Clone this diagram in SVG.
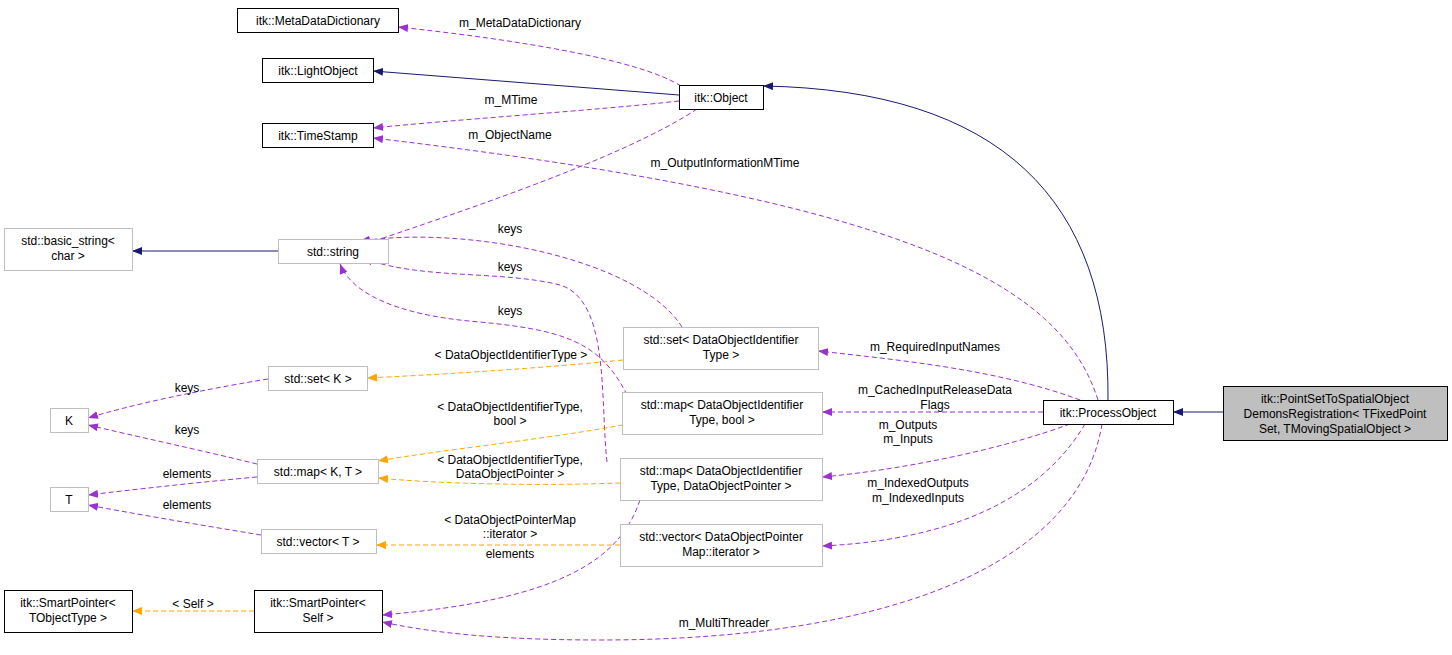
<svg xmlns="http://www.w3.org/2000/svg" width="1452" height="655" viewBox="0 0 1452 655">
<style>
text{font-family:"Liberation Sans",Arial,sans-serif;font-size:12px;fill:#000}
.n rect{fill:#fff;stroke:#000;stroke-width:1}
.g rect{fill:#fff;stroke:#bfbfbf;stroke-width:1}
.c{text-anchor:middle}
.s{fill:none;stroke:#191970;stroke-width:1}
.p{fill:none;stroke:#9a32cd;stroke-width:1;stroke-dasharray:5,3}
.o{fill:none;stroke:#ffa500;stroke-width:1;stroke-dasharray:5,3}
</style>
<defs>
<marker id="mn" viewBox="0 0 10 8" refX="10" refY="4" markerWidth="10" markerHeight="8" markerUnits="userSpaceOnUse" orient="auto"><path d="M0,0L10,4L0,8z" fill="#191970"/></marker>
<marker id="mp" viewBox="0 0 10 8" refX="10" refY="4" markerWidth="10" markerHeight="8" markerUnits="userSpaceOnUse" orient="auto"><path d="M0,0L10,4L0,8z" fill="#9a32cd"/></marker>
<marker id="mo" viewBox="0 0 10 8" refX="10" refY="4" markerWidth="10" markerHeight="8" markerUnits="userSpaceOnUse" orient="auto"><path d="M0,0L10,4L0,8z" fill="#ffa500"/></marker>
</defs>
<rect width="1452" height="655" fill="#fff"/>
<g id="edges">
<path class="s" marker-end="url(#mn)" d="M1223,412H1173"/>
<path class="s" marker-end="url(#mn)" d="M1108,400C1110,200 1000,90 763,86"/>
<path class="s" marker-end="url(#mn)" d="M679,95L373,71"/>
<path class="s" marker-end="url(#mn)" d="M278,251H132"/>
<path class="p" marker-end="url(#mp)" d="M681,86C640,60 520,40 398,27"/>
<text x="520" y="27" class="c">m_MetaDataDictionary</text>
<path class="p" marker-end="url(#mp)" d="M679,101C600,110 450,120 373,128"/>
<text x="511" y="104" class="c">m_MTime</text>
<path class="p" marker-end="url(#mp)" d="M1098,400C1060,280 900,200 373,138"/>
<text x="725" y="167" class="c">m_OutputInformationMTime</text>
<path class="p" marker-end="url(#mp)" d="M697,109C620,160 450,215 360,246"/>
<text x="510" y="139" class="c">m_ObjectName</text>
<path class="p" marker-end="url(#mp)" d="M682,327C640,260 470,225 360,241"/>
<text x="510" y="233" class="c">keys</text>
<path class="p" marker-end="url(#mp)" d="M607,462C600,400 610,300 560,285C500,270 420,280 363,258"/>
<text x="510" y="271" class="c">keys</text>
<path class="p" marker-end="url(#mp)" d="M627,395C600,340 560,330 480,322C390,315 350,290 340,264"/>
<text x="510" y="315" class="c">keys</text>
<path class="p" marker-end="url(#mp)" d="M640,500C620,560 560,600 382,615"/>
<text x="510" y="558" class="c">elements</text>
<path class="p" marker-end="url(#mp)" d="M1080,400C1000,370 900,360 818,351"/>
<text x="935" y="351" class="c">m_RequiredInputNames</text>
<path class="p" marker-end="url(#mp)" d="M1043,412H822"/>
<text x="935" y="394" class="c">m_CachedInputReleaseData</text>
<text x="935" y="409" class="c">Flags</text>
<path class="p" marker-end="url(#mp)" d="M1070,424C1000,450 900,470 822,477"/>
<text x="908" y="429" class="c">m_Outputs</text>
<text x="908" y="443" class="c">m_Inputs</text>
<path class="p" marker-end="url(#mp)" d="M1085,424C1040,500 950,540 822,546"/>
<text x="918" y="487" class="c">m_IndexedOutputs</text>
<text x="918" y="502" class="c">m_IndexedInputs</text>
<path class="p" marker-end="url(#mp)" d="M1102,424C1080,560 900,640 600,640C480,640 420,630 382,622"/>
<text x="724" y="627" class="c">m_MultiThreader</text>
<path class="o" marker-end="url(#mo)" d="M623,360C520,370 430,375 367,378"/>
<text x="511" y="359" class="c">&lt; DataObjectIdentifierType &gt;</text>
<path class="o" marker-end="url(#mo)" d="M623,425C540,440 440,450 378,461"/>
<text x="510" y="411" class="c">&lt; DataObjectIdentifierType,</text>
<text x="510" y="425" class="c">bool &gt;</text>
<path class="o" marker-end="url(#mo)" d="M620,483C540,486 440,484 378,478"/>
<text x="510" y="464" class="c">&lt; DataObjectIdentifierType,</text>
<text x="510" y="478" class="c">DataObjectPointer &gt;</text>
<path class="o" marker-end="url(#mo)" d="M620,545H376"/>
<text x="510" y="524" class="c">&lt; DataObjectPointerMap</text>
<text x="510" y="538" class="c">::iterator &gt;</text>
<path class="o" marker-end="url(#mo)" d="M254,611H132"/>
<text x="193" y="608" class="c">&lt; Self &gt;</text>
<path class="p" marker-end="url(#mp)" d="M268,379C200,390 130,405 88,418"/>
<text x="187" y="392" class="c">keys</text>
<path class="p" marker-end="url(#mp)" d="M257,464C200,450 130,435 88,425"/>
<text x="187" y="434" class="c">keys</text>
<path class="p" marker-end="url(#mp)" d="M257,477C200,482 130,490 88,495"/>
<text x="187" y="478" class="c">elements</text>
<path class="p" marker-end="url(#mp)" d="M261,535C200,525 130,513 88,505"/>
<text x="187" y="509" class="c">elements</text>
</g>
<g id="MetaDataDictionary" class="n"><rect x="237.5" y="8.5" width="161" height="24"/><text x="318" y="25" class="c">itk::MetaDataDictionary</text></g>
<g id="LightObject" class="n"><rect x="262.5" y="58.5" width="111" height="24"/><text x="318" y="75" class="c">itk::LightObject</text></g>
<g id="TimeStamp" class="n"><rect x="262.5" y="123.5" width="111" height="24"/><text x="318" y="140" class="c">itk::TimeStamp</text></g>
<g id="Object" class="n"><rect x="679.5" y="85.5" width="84" height="24"/><text x="721" y="102" class="c">itk::Object</text></g>
<g id="basic_string" class="g"><rect x="4.5" y="228.5" width="128" height="42"/><text x="68" y="245" class="c">std::basic_string&lt;</text><text x="68" y="260" class="c">char &gt;</text></g>
<g id="string" class="g"><rect x="278.5" y="239.5" width="110" height="24"/><text x="333" y="256" class="c">std::string</text></g>
<g id="setDOIT" class="g"><rect x="623.5" y="327.5" width="195" height="42"/><text x="721" y="344" class="c">std::set&lt; DataObjectIdentifier</text><text x="721" y="359" class="c">Type &gt;</text></g>
<g id="setK" class="g"><rect x="268.5" y="366.5" width="99" height="24"/><text x="318" y="383" class="c">std::set&lt; K &gt;</text></g>
<g id="K" class="g"><rect x="50.5" y="408.5" width="38" height="24"/><text x="69" y="425" class="c">K</text></g>
<g id="mapBool" class="g"><rect x="622.5" y="392.5" width="200" height="42"/><text x="722" y="409" class="c">std::map&lt; DataObjectIdentifier</text><text x="722" y="424" class="c">Type, bool &gt;</text></g>
<g id="ProcessObject" class="n"><rect x="1043.5" y="400.5" width="130" height="24"/><text x="1108" y="417" class="c">itk::ProcessObject</text></g>
<g id="target"><rect x="1223.5" y="386.5" width="224" height="54" fill="#bfbfbf" stroke="#000"/><text x="1335" y="403" class="c">itk::PointSetToSpatialObject</text><text x="1335" y="418" class="c">DemonsRegistration&lt; TFixedPoint</text><text x="1335" y="433" class="c">Set, TMovingSpatialObject &gt;</text></g>
<g id="mapKT" class="g"><rect x="257.5" y="459.5" width="121" height="24"/><text x="318" y="476" class="c">std::map&lt; K, T &gt;</text></g>
<g id="T" class="g"><rect x="50.5" y="487.5" width="38" height="24"/><text x="69" y="504" class="c">T</text></g>
<g id="mapDOP" class="g"><rect x="620.5" y="458.5" width="202" height="42"/><text x="721" y="475" class="c">std::map&lt; DataObjectIdentifier</text><text x="721" y="490" class="c">Type, DataObjectPointer &gt;</text></g>
<g id="vectorT" class="g"><rect x="261.5" y="529.5" width="115" height="24"/><text x="318" y="546" class="c">std::vector&lt; T &gt;</text></g>
<g id="vectorIt" class="g"><rect x="620.5" y="524.5" width="202" height="42"/><text x="721" y="541" class="c">std::vector&lt; DataObjectPointer</text><text x="721" y="556" class="c">Map::iterator &gt;</text></g>
<g id="SPTObject" class="n"><rect x="4.5" y="590.5" width="128" height="42"/><text x="68" y="607" class="c">itk::SmartPointer&lt;</text><text x="68" y="622" class="c">TObjectType &gt;</text></g>
<g id="SPSelf" class="n"><rect x="254.5" y="590.5" width="128" height="42"/><text x="318" y="607" class="c">itk::SmartPointer&lt;</text><text x="318" y="622" class="c">Self &gt;</text></g>
</svg>
